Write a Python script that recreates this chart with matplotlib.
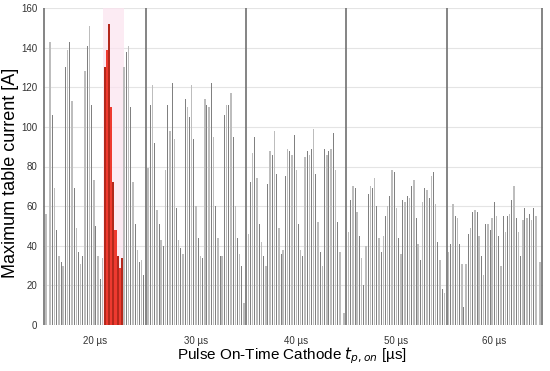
import matplotlib
matplotlib.use("Agg")
import matplotlib.pyplot as plt
import numpy as np

plt.rcParams['font.family'] = ['Liberation Sans', 'DejaVu Sans']

groups = ["20 µs", "30 µs", "40 µs", "50 µs", "60 µs"]

vals_20 = [56, 133, 143, 106, 69, 48, 35, 32, 30,
           130, 139, 143, 113, 69, 49, 37, 31, 35,
           128, 141, 151, 111, 73, 50, 35, 23, 34,
           130, 139, 152, 110, 72, 48, 35, 29, 34,
           130, 138, 141, 110, 72, 51, 38, 32, 33, 25]
vals_30 = [79, 111, 121, 92, 58, 51, 43, 40,
           78, 111, 98, 122, 94, 59, 43, 39, 36,
           114, 110, 105, 121, 94, 60, 44, 35, 34,
           114, 111, 110, 122, 95, 60, 44, 35, 35,
           106, 111, 111, 117, 95, 60, 44, 36, 30, 11]
vals_40 = [46, 72, 87, 95, 74, 51, 42, 35, 30,
           71, 88, 86, 98, 76, 49, 36, 38,
           75, 89, 88, 86, 96, 78, 51, 38, 35,
           85, 88, 86, 89, 99, 76, 52, 37, 30,
           89, 86, 88, 89, 97, 78, 52, 37, 31, 6]
vals_50 = [47, 63, 70, 69, 57, 45, 34, 20,
           40, 66, 70, 69, 74, 60, 44, 37,
           45, 55, 60, 65, 78, 77, 59, 44, 36,
           63, 62, 65, 64, 70, 73, 54, 41, 33,
           62, 69, 68, 64, 75, 77, 61, 42, 33, 18, 16]
vals_60 = [37, 41, 61, 55, 54, 41, 31, 9,
           31, 46, 49, 57, 58, 57, 45, 35, 25,
           51, 51, 48, 54, 62, 55, 45, 30,
           55, 47, 55, 56, 63, 70, 54, 47, 35,
           53, 59, 54, 56, 53, 59, 55, 53, 32]
series = [vals_20, vals_30, vals_40, vals_50, vals_60]
highlight_group = 0
highlight_range = (27, 36)   # bar indices in the 20 µs group shown in red

fig = plt.figure(figsize=(5.5, 3.71), dpi=100)
ax = fig.add_axes([43/550, 1-325/371, 500/550, 317/371])

pos = 0.0
seps = [pos]
centers = []
for gi, vals in enumerate(series):
    start = pos + 1
    x = start + np.arange(len(vals))
    colors = []
    widths = []
    for i in range(len(vals)):
        dark = (i % 2 == 1)
        if gi == highlight_group and highlight_range[0] <= i < highlight_range[1]:
            colors.append('#b3281c' if dark else '#ee3a30')
            widths.append(0.95)
        else:
            colors.append('#808080' if dark else '#bdbdbd')
            widths.append(0.45 if dark else 0.7)
    ax.bar(x, vals, width=widths, color=colors, linewidth=0, zorder=2)
    if gi == highlight_group:
        ax.axvspan(start + highlight_range[0] - 0.8, start + highlight_range[1] - 0.2,
                   color='#fbe3ef', alpha=0.7, zorder=1, lw=0)
    pos = start + len(vals)
    seps.append(pos)
    centers.append((seps[-2] + seps[-1]) / 2)

for s in seps:
    ax.axvline(s, color='#707070', lw=1.2, zorder=3)

ax.set_xlim(seps[0] - 0.3, seps[-1] + 0.3)
ax.set_ylim(0, 160)
ax.set_yticks(np.arange(0, 161, 20))
ax.set_xticks(centers)
ax.set_xticklabels(groups)
ax.tick_params(axis='both', length=0, labelsize=7, colors='#333333')
ax.tick_params(axis='x', pad=8)
ax.tick_params(axis='y', pad=4)
ax.grid(axis='y', color='#e4e4e4', lw=0.8, zorder=0)
ax.set_axisbelow(True)
for sp in ax.spines.values():
    sp.set_visible(False)

ax.set_ylabel("Maximum table current [A]", fontsize=13)
ax.yaxis.set_label_coords(-0.047, 0.48)
ax.set_xlabel(r"Pulse On-Time Cathode $t_{p,on}$ [µs]", fontsize=11)
ax.xaxis.set_label_coords(0.498, -0.065)

fig.savefig("out.png", dpi=100)
